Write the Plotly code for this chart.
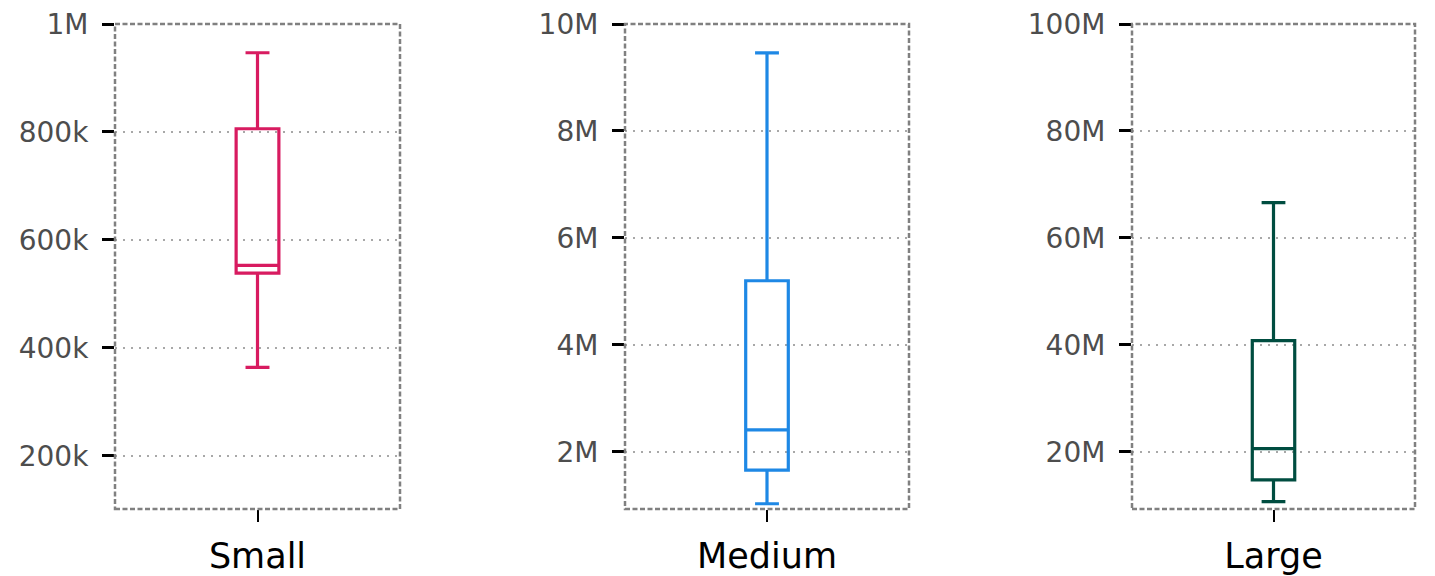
import plotly.graph_objects as go

categories = ["Small", "Medium", "Large"]
colors = ["#D81B60", "#1E88E5", "#004D40"]
q1 = [538400, 1660000, 14750000]
median = [552700, 2410000, 20600000]
q3 = [806000, 5200000, 40800000]
lowerfence = [364000, 1030000, 10690000]
upperfence = [946700, 9460000, 66600000]
y_ranges = [[101600, 1000000], [932000, 10000000], [9320000, 100000000]]
tick_vals = [
    [200000, 400000, 600000, 800000, 1000000],
    [2000000, 4000000, 6000000, 8000000, 10000000],
    [20000000, 40000000, 60000000, 80000000, 100000000],
]
tick_text = [
    ["200k", "400k", "600k", "800k", "1M"],
    ["2M", "4M", "6M", "8M", "10M"],
    ["20M", "40M", "60M", "80M", "100M"],
]

# page has an 8px body margin; figure is drawn at (8, 8)
OFF = 8
W, H = 1435 - OFF, 576 - OFF
x_px = [(115 - OFF, 400 - OFF), (625 - OFF, 909 - OFF), (1132 - OFF, 1415 - OFF)]

fig = go.Figure()
layout = dict(
    width=W, height=H,
    margin=dict(l=0, r=0, t=24 - OFF, b=68 - OFF),
    paper_bgcolor="white", plot_bgcolor="white",
    showlegend=False,
    font=dict(family="DejaVu Sans"),
)
shapes = []
for i, cat in enumerate(categories):
    n = "" if i == 0 else str(i + 1)
    xa, ya = "x" + n, "y" + n
    fig.add_trace(go.Box(
        x=[cat], q1=[q1[i]], median=[median[i]], q3=[q3[i]],
        lowerfence=[lowerfence[i]], upperfence=[upperfence[i]],
        xaxis=xa, yaxis=ya,
        fillcolor="rgba(0,0,0,0)",
        line=dict(color=colors[i], width=3.2),
        width=0.15, whiskerwidth=0.56,
        boxpoints=False, hoverinfo="skip",
    ))
    x0, x1 = x_px[i]
    layout["xaxis" + n] = dict(
        domain=[x0 / W, x1 / W], anchor=ya,
        range=[-0.5, 0.5], showgrid=False, zeroline=False, showline=False,
        ticks="outside", ticklen=12, tickwidth=2, tickcolor="black",
        tickfont=dict(size=35, color="black", family="DejaVu Sans"),
        ticklabelstandoff=4,
        fixedrange=True,
    )
    layout["yaxis" + n] = dict(
        domain=[0, 1], anchor=xa,
        range=y_ranges[i], tickvals=tick_vals[i], ticktext=tick_text[i],
        showgrid=True, gridcolor="#a8a8a8", gridwidth=2, griddash="2px,6px",
        zeroline=False, showline=False,
        ticks="outside", ticklen=12, tickwidth=3, tickcolor="black",
        tickfont=dict(size=28, color="#4d4d4d", family="DejaVu Sans"),
        ticklabelstandoff=8, ticklabeloverflow="allow",
        fixedrange=True,
    )
    shapes.append(dict(
        type="rect", xref=xa + " domain", yref=ya + " domain",
        x0=0, x1=1, y0=0, y1=1,
        line=dict(color="#808080", width=2.5, dash="5px,2.5px"),
        fillcolor="rgba(0,0,0,0)", layer="above",
    ))
layout["shapes"] = shapes
fig.update_layout(**layout)
fig.write_html("out.html")
